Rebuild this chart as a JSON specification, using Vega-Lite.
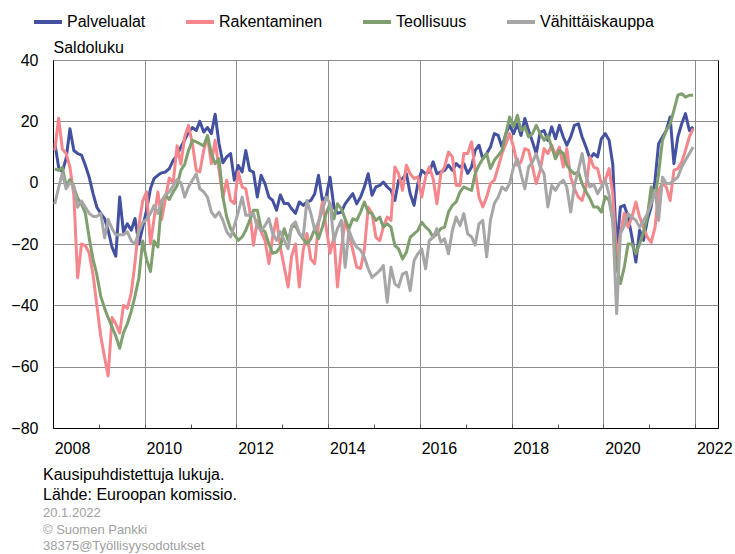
{
"$schema":"https://vega.github.io/schema/vega-lite/v6.json",
"width":665,"height":368,
"autosize":"none",
"padding":{"left":53,"top":60,"right":17,"bottom":126},
"config":{"font":"Liberation Sans","view":{"stroke":"black","strokeWidth":1}},
"title":{"text":["Kausipuhdistettuja lukuja.","Lähde: Euroopan komissio."],"subtitle":["20.1.2022","© Suomen Pankki","38375@Työllisyysodotukset"],"orient":"bottom","anchor":"start","frame":"group","dx":-10,"offset":11,"fontSize":16,"fontWeight":"normal","color":"black","lineHeight":20,"subtitleFontSize":13,"subtitleColor":"#a0a0a0","subtitleLineHeight":16.5,"subtitlePadding":4,"font":"Liberation Sans","subtitleFont":"Liberation Sans"},
"data":{"values":[
{"kk":"2008-01-15","Palvelualat":13,"Rakentaminen":10.5,"Teollisuus":4.5,"Vähittäiskauppa":-7},
{"kk":"2008-02-15","Palvelualat":5,"Rakentaminen":21,"Teollisuus":4,"Vähittäiskauppa":-1.5},
{"kk":"2008-03-15","Palvelualat":3.5,"Rakentaminen":11,"Teollisuus":5,"Vähittäiskauppa":3},
{"kk":"2008-04-15","Palvelualat":8,"Rakentaminen":9.5,"Teollisuus":-1,"Vähittäiskauppa":-2},
{"kk":"2008-05-15","Palvelualat":17.6,"Rakentaminen":5,"Teollisuus":1,"Vähittäiskauppa":0},
{"kk":"2008-06-15","Palvelualat":10.5,"Rakentaminen":-4,"Teollisuus":-1.5,"Vähittäiskauppa":-1},
{"kk":"2008-07-15","Palvelualat":9.5,"Rakentaminen":-31,"Teollisuus":-5,"Vähittäiskauppa":-8},
{"kk":"2008-08-15","Palvelualat":9,"Rakentaminen":-20,"Teollisuus":-7,"Vähittäiskauppa":-6},
{"kk":"2008-09-15","Palvelualat":5.6,"Rakentaminen":-20.5,"Teollisuus":-10,"Vähittäiskauppa":-8},
{"kk":"2008-10-15","Palvelualat":1.8,"Rakentaminen":-23,"Teollisuus":-18,"Vähittäiskauppa":-10},
{"kk":"2008-11-15","Palvelualat":-3.6,"Rakentaminen":-30,"Teollisuus":-25,"Vähittäiskauppa":-11},
{"kk":"2008-12-15","Palvelualat":-8,"Rakentaminen":-40,"Teollisuus":-30,"Vähittäiskauppa":-11},
{"kk":"2009-01-15","Palvelualat":-10,"Rakentaminen":-50,"Teollisuus":-37,"Vähittäiskauppa":-10},
{"kk":"2009-02-15","Palvelualat":-11.7,"Rakentaminen":-57,"Teollisuus":-41,"Vähittäiskauppa":-18},
{"kk":"2009-03-15","Palvelualat":-15.5,"Rakentaminen":-63,"Teollisuus":-44,"Vähittäiskauppa":-12},
{"kk":"2009-04-15","Palvelualat":-21,"Rakentaminen":-44,"Teollisuus":-47,"Vähittäiskauppa":-15},
{"kk":"2009-05-15","Palvelualat":-24,"Rakentaminen":-46,"Teollisuus":-50,"Vähittäiskauppa":-17},
{"kk":"2009-06-15","Palvelualat":-4.7,"Rakentaminen":-49,"Teollisuus":-54,"Vähittäiskauppa":-17},
{"kk":"2009-07-15","Palvelualat":-16,"Rakentaminen":-40,"Teollisuus":-49,"Vähittäiskauppa":-17},
{"kk":"2009-08-15","Palvelualat":-13.4,"Rakentaminen":-41,"Teollisuus":-46,"Vähittäiskauppa":-16},
{"kk":"2009-09-15","Palvelualat":-15.5,"Rakentaminen":-36,"Teollisuus":-42,"Vähittäiskauppa":-19},
{"kk":"2009-10-15","Palvelualat":-11.7,"Rakentaminen":-26,"Teollisuus":-37,"Vähittäiskauppa":-20},
{"kk":"2009-11-15","Palvelualat":-20,"Rakentaminen":-14,"Teollisuus":-31,"Vähittäiskauppa":-16},
{"kk":"2009-12-15","Palvelualat":-14.5,"Rakentaminen":-6,"Teollisuus":-19,"Vähittäiskauppa":-13},
{"kk":"2010-01-15","Palvelualat":-9,"Rakentaminen":-3,"Teollisuus":-25,"Vähittäiskauppa":-12},
{"kk":"2010-02-15","Palvelualat":-2,"Rakentaminen":-20,"Teollisuus":-29,"Vähittäiskauppa":-10},
{"kk":"2010-03-15","Palvelualat":1.3,"Rakentaminen":-12,"Teollisuus":-19,"Vähittäiskauppa":-7.5},
{"kk":"2010-04-15","Palvelualat":2.4,"Rakentaminen":-3,"Teollisuus":-21,"Vähittäiskauppa":-10},
{"kk":"2010-05-15","Palvelualat":3.2,"Rakentaminen":-12,"Teollisuus":-6,"Vähittäiskauppa":-6},
{"kk":"2010-06-15","Palvelualat":3.5,"Rakentaminen":-5,"Teollisuus":-4,"Vähittäiskauppa":-4},
{"kk":"2010-07-15","Palvelualat":4.6,"Rakentaminen":1.5,"Teollisuus":-5.5,"Vähittäiskauppa":-3},
{"kk":"2010-08-15","Palvelualat":7.3,"Rakentaminen":0,"Teollisuus":-3,"Vähittäiskauppa":-1},
{"kk":"2010-09-15","Palvelualat":9,"Rakentaminen":12,"Teollisuus":-1,"Vähittäiskauppa":1},
{"kk":"2010-10-15","Palvelualat":11.6,"Rakentaminen":6,"Teollisuus":4,"Vähittäiskauppa":0},
{"kk":"2010-11-15","Palvelualat":14,"Rakentaminen":15,"Teollisuus":6,"Vähittäiskauppa":-4.7},
{"kk":"2010-12-15","Palvelualat":16.5,"Rakentaminen":18.7,"Teollisuus":10.5,"Vähittäiskauppa":-1.4},
{"kk":"2011-01-15","Palvelualat":18,"Rakentaminen":12.7,"Teollisuus":13.8,"Vähittäiskauppa":0.8},
{"kk":"2011-02-15","Palvelualat":17,"Rakentaminen":4,"Teollisuus":13.3,"Vähittäiskauppa":2.9},
{"kk":"2011-03-15","Palvelualat":20,"Rakentaminen":3.5,"Teollisuus":12.7,"Vähittäiskauppa":-2},
{"kk":"2011-04-15","Palvelualat":16.5,"Rakentaminen":10.5,"Teollisuus":12,"Vähittäiskauppa":-3},
{"kk":"2011-05-15","Palvelualat":18,"Rakentaminen":15,"Teollisuus":15.4,"Vähittäiskauppa":-4.7},
{"kk":"2011-06-15","Palvelualat":16,"Rakentaminen":6.2,"Teollisuus":9.5,"Vähittäiskauppa":-9.6},
{"kk":"2011-07-15","Palvelualat":22.3,"Rakentaminen":13.8,"Teollisuus":6.2,"Vähittäiskauppa":-11.2},
{"kk":"2011-08-15","Palvelualat":12.7,"Rakentaminen":4,"Teollisuus":7.8,"Vähittäiskauppa":-9.6},
{"kk":"2011-09-15","Palvelualat":6.5,"Rakentaminen":-4.7,"Teollisuus":-4.7,"Vähittäiskauppa":-12.3},
{"kk":"2011-10-15","Palvelualat":8.4,"Rakentaminen":0.8,"Teollisuus":-11.2,"Vähittäiskauppa":-16},
{"kk":"2011-11-15","Palvelualat":9.5,"Rakentaminen":-5.8,"Teollisuus":-15,"Vähittäiskauppa":-17.7},
{"kk":"2011-12-15","Palvelualat":0.8,"Rakentaminen":-6.8,"Teollisuus":-17,"Vähittäiskauppa":-14},
{"kk":"2012-01-15","Palvelualat":5.6,"Rakentaminen":3.5,"Teollisuus":-18.8,"Vähittäiskauppa":-9.6},
{"kk":"2012-02-15","Palvelualat":3.5,"Rakentaminen":-1.4,"Teollisuus":-17.7,"Vähittäiskauppa":-4.7},
{"kk":"2012-03-15","Palvelualat":10.5,"Rakentaminen":-2,"Teollisuus":-15.5,"Vähittäiskauppa":-10.6},
{"kk":"2012-04-15","Palvelualat":4,"Rakentaminen":-9,"Teollisuus":-12.3,"Vähittäiskauppa":-10.6},
{"kk":"2012-05-15","Palvelualat":3.5,"Rakentaminen":-20.4,"Teollisuus":-9,"Vähittäiskauppa":-10},
{"kk":"2012-06-15","Palvelualat":-4.7,"Rakentaminen":-12.3,"Teollisuus":-9,"Vähittäiskauppa":-14.5},
{"kk":"2012-07-15","Palvelualat":2.4,"Rakentaminen":-16,"Teollisuus":-15,"Vähittäiskauppa":-15.5},
{"kk":"2012-08-15","Palvelualat":-0.3,"Rakentaminen":-18.8,"Teollisuus":-16,"Vähittäiskauppa":-14},
{"kk":"2012-09-15","Palvelualat":-4.7,"Rakentaminen":-26.4,"Teollisuus":-20,"Vähittäiskauppa":-11.7},
{"kk":"2012-10-15","Palvelualat":-5.8,"Rakentaminen":-17.7,"Teollisuus":-23,"Vähittäiskauppa":-16.6},
{"kk":"2012-11-15","Palvelualat":-9,"Rakentaminen":-11.7,"Teollisuus":-22.6,"Vähittäiskauppa":-18.8},
{"kk":"2012-12-15","Palvelualat":-4,"Rakentaminen":-21,"Teollisuus":-21,"Vähittäiskauppa":-16},
{"kk":"2013-01-15","Palvelualat":-6.8,"Rakentaminen":-27.5,"Teollisuus":-15,"Vähittäiskauppa":-18.8},
{"kk":"2013-02-15","Palvelualat":-6.8,"Rakentaminen":-34,"Teollisuus":-18.8,"Vähittäiskauppa":-21.5},
{"kk":"2013-03-15","Palvelualat":-8.5,"Rakentaminen":-24,"Teollisuus":-14.5,"Vähittäiskauppa":-14},
{"kk":"2013-04-15","Palvelualat":-10,"Rakentaminen":-20,"Teollisuus":-14,"Vähittäiskauppa":-12.8},
{"kk":"2013-05-15","Palvelualat":-6.3,"Rakentaminen":-34,"Teollisuus":-16.6,"Vähittäiskauppa":-16.6},
{"kk":"2013-06-15","Palvelualat":-7.4,"Rakentaminen":-22,"Teollisuus":-18.3,"Vähittäiskauppa":-17.7},
{"kk":"2013-07-15","Palvelualat":-6.3,"Rakentaminen":-16.6,"Teollisuus":-20,"Vähittäiskauppa":-5.8},
{"kk":"2013-08-15","Palvelualat":-5.8,"Rakentaminen":-25,"Teollisuus":-18.3,"Vähittäiskauppa":-10},
{"kk":"2013-09-15","Palvelualat":-3.6,"Rakentaminen":-26.4,"Teollisuus":-15,"Vähittäiskauppa":-15.5},
{"kk":"2013-10-15","Palvelualat":2.4,"Rakentaminen":-13.4,"Teollisuus":-18.3,"Vähittäiskauppa":-12.8},
{"kk":"2013-11-15","Palvelualat":-5.8,"Rakentaminen":-6.3,"Teollisuus":-14.5,"Vähittäiskauppa":-9},
{"kk":"2013-12-15","Palvelualat":-4.7,"Rakentaminen":-14.5,"Teollisuus":-10,"Vähittäiskauppa":-4.7},
{"kk":"2014-01-15","Palvelualat":1.8,"Rakentaminen":-23,"Teollisuus":-6.9,"Vähittäiskauppa":-6.8},
{"kk":"2014-02-15","Palvelualat":-8,"Rakentaminen":-17.8,"Teollisuus":-11.8,"Vähittäiskauppa":-18.9},
{"kk":"2014-03-15","Palvelualat":-10,"Rakentaminen":-34,"Teollisuus":-6.9,"Vähittäiskauppa":-15},
{"kk":"2014-04-15","Palvelualat":-9.6,"Rakentaminen":-21.6,"Teollisuus":-8.5,"Vähittäiskauppa":-12.3},
{"kk":"2014-05-15","Palvelualat":-6.9,"Rakentaminen":-12.3,"Teollisuus":-11.8,"Vähittäiskauppa":-27.6},
{"kk":"2014-06-15","Palvelualat":-5.2,"Rakentaminen":-16.6,"Teollisuus":-15,"Vähittäiskauppa":-15.6},
{"kk":"2014-07-15","Palvelualat":-3.6,"Rakentaminen":-22,"Teollisuus":-11.8,"Vähittäiskauppa":-18.9},
{"kk":"2014-08-15","Palvelualat":-6.9,"Rakentaminen":-27.5,"Teollisuus":-12.3,"Vähittäiskauppa":-21},
{"kk":"2014-09-15","Palvelualat":-4.7,"Rakentaminen":-28,"Teollisuus":-9.6,"Vähittäiskauppa":-22},
{"kk":"2014-10-15","Palvelualat":-1.4,"Rakentaminen":-22,"Teollisuus":-6.3,"Vähittäiskauppa":-24.3},
{"kk":"2014-11-15","Palvelualat":2.9,"Rakentaminen":-8,"Teollisuus":-9.6,"Vähittäiskauppa":-28.1},
{"kk":"2014-12-15","Palvelualat":-4.1,"Rakentaminen":-10,"Teollisuus":-10.1,"Vähittäiskauppa":-30.9},
{"kk":"2015-01-15","Palvelualat":-1.4,"Rakentaminen":-17.8,"Teollisuus":-12.3,"Vähittäiskauppa":-29.8},
{"kk":"2015-02-15","Palvelualat":-0.9,"Rakentaminen":-18.9,"Teollisuus":-11.2,"Vähittäiskauppa":-28.7},
{"kk":"2015-03-15","Palvelualat":0.2,"Rakentaminen":-14.5,"Teollisuus":-14.5,"Vähittäiskauppa":-27},
{"kk":"2015-04-15","Palvelualat":-1.4,"Rakentaminen":-11.2,"Teollisuus":-13.4,"Vähittäiskauppa":-39},
{"kk":"2015-05-15","Palvelualat":-2.5,"Rakentaminen":-12.3,"Teollisuus":-14.5,"Vähittäiskauppa":-27.6},
{"kk":"2015-06-15","Palvelualat":-5.8,"Rakentaminen":5.1,"Teollisuus":-20.5,"Vähittäiskauppa":-33},
{"kk":"2015-07-15","Palvelualat":0.8,"Rakentaminen":2.9,"Teollisuus":-21.6,"Vähittäiskauppa":-34},
{"kk":"2015-08-15","Palvelualat":1.3,"Rakentaminen":-2.5,"Teollisuus":-24.9,"Vähittäiskauppa":-29.8},
{"kk":"2015-09-15","Palvelualat":2.9,"Rakentaminen":5.7,"Teollisuus":-22.7,"Vähittäiskauppa":-29.2},
{"kk":"2015-10-15","Palvelualat":-3.6,"Rakentaminen":2.9,"Teollisuus":-17.8,"Vähittäiskauppa":-35.2},
{"kk":"2015-11-15","Palvelualat":-7.4,"Rakentaminen":1.3,"Teollisuus":-16.7,"Vähittäiskauppa":-25.4},
{"kk":"2015-12-15","Palvelualat":-0.3,"Rakentaminen":1.9,"Teollisuus":-15.6,"Vähittäiskauppa":-23.2},
{"kk":"2016-01-15","Palvelualat":4,"Rakentaminen":-4.7,"Teollisuus":-12.9,"Vähittäiskauppa":-21.6},
{"kk":"2016-02-15","Palvelualat":2.9,"Rakentaminen":1.9,"Teollisuus":-14.5,"Vähittäiskauppa":-28.1},
{"kk":"2016-03-15","Palvelualat":3.5,"Rakentaminen":5.1,"Teollisuus":-15.6,"Vähittäiskauppa":-18.9},
{"kk":"2016-04-15","Palvelualat":6.8,"Rakentaminen":1.3,"Teollisuus":-17.8,"Vähittäiskauppa":-17.8},
{"kk":"2016-05-15","Palvelualat":2.9,"Rakentaminen":-6.9,"Teollisuus":-16.7,"Vähittäiskauppa":-15},
{"kk":"2016-06-15","Palvelualat":3.5,"Rakentaminen":2.9,"Teollisuus":-15,"Vähittäiskauppa":-19.4},
{"kk":"2016-07-15","Palvelualat":4,"Rakentaminen":5.1,"Teollisuus":-14.5,"Vähittäiskauppa":-18.3},
{"kk":"2016-08-15","Palvelualat":5.7,"Rakentaminen":10,"Teollisuus":-9.6,"Vähittäiskauppa":-23.2},
{"kk":"2016-09-15","Palvelualat":4,"Rakentaminen":8.4,"Teollisuus":-7.4,"Vähittäiskauppa":-15.6},
{"kk":"2016-10-15","Palvelualat":6.2,"Rakentaminen":-0.9,"Teollisuus":-6.3,"Vähittäiskauppa":-11.2},
{"kk":"2016-11-15","Palvelualat":5.1,"Rakentaminen":-0.9,"Teollisuus":-3,"Vähittäiskauppa":-14},
{"kk":"2016-12-15","Palvelualat":6.2,"Rakentaminen":9.5,"Teollisuus":-1.4,"Vähittäiskauppa":-10.1},
{"kk":"2017-01-15","Palvelualat":3,"Rakentaminen":9.5,"Teollisuus":-2,"Vähittäiskauppa":-16.7},
{"kk":"2017-02-15","Palvelualat":5.1,"Rakentaminen":13.3,"Teollisuus":-2.5,"Vähittäiskauppa":-17.7},
{"kk":"2017-03-15","Palvelualat":10.5,"Rakentaminen":4,"Teollisuus":2.9,"Vähittäiskauppa":-20.4},
{"kk":"2017-04-15","Palvelualat":12.2,"Rakentaminen":-4.7,"Teollisuus":5.7,"Vähittäiskauppa":-13.4},
{"kk":"2017-05-15","Palvelualat":7.8,"Rakentaminen":-7.9,"Teollisuus":7.8,"Vähittäiskauppa":-12.3},
{"kk":"2017-06-15","Palvelualat":9.5,"Rakentaminen":-4.7,"Teollisuus":9.5,"Vähittäiskauppa":-24.2},
{"kk":"2017-07-15","Palvelualat":11.6,"Rakentaminen":-0.3,"Teollisuus":4.6,"Vähittäiskauppa":-12.3},
{"kk":"2017-08-15","Palvelualat":16,"Rakentaminen":0.8,"Teollisuus":7.3,"Vähittäiskauppa":-6.8},
{"kk":"2017-09-15","Palvelualat":15.4,"Rakentaminen":5.1,"Teollisuus":8.9,"Vähittäiskauppa":-4.7},
{"kk":"2017-10-15","Palvelualat":11.6,"Rakentaminen":9.5,"Teollisuus":10.5,"Vähittäiskauppa":-1.4},
{"kk":"2017-11-15","Palvelualat":16,"Rakentaminen":12.7,"Teollisuus":16,"Vähittäiskauppa":-2.5},
{"kk":"2017-12-15","Palvelualat":18.7,"Rakentaminen":16,"Teollisuus":21.4,"Vähittäiskauppa":-0.3},
{"kk":"2018-01-15","Palvelualat":16,"Rakentaminen":11.6,"Teollisuus":18.2,"Vähittäiskauppa":5.1},
{"kk":"2018-02-15","Palvelualat":19.2,"Rakentaminen":5.7,"Teollisuus":22,"Vähittäiskauppa":7.8},
{"kk":"2018-03-15","Palvelualat":15.4,"Rakentaminen":6.7,"Teollisuus":17,"Vähittäiskauppa":2.9},
{"kk":"2018-04-15","Palvelualat":20.9,"Rakentaminen":11.1,"Teollisuus":18.2,"Vähittäiskauppa":-2},
{"kk":"2018-05-15","Palvelualat":17,"Rakentaminen":10.5,"Teollisuus":14.9,"Vähittäiskauppa":5.1},
{"kk":"2018-06-15","Palvelualat":13.3,"Rakentaminen":5.1,"Teollisuus":16,"Vähittäiskauppa":6.7},
{"kk":"2018-07-15","Palvelualat":9.5,"Rakentaminen":-0.3,"Teollisuus":18.7,"Vähittäiskauppa":9.5},
{"kk":"2018-08-15","Palvelualat":16.5,"Rakentaminen":4,"Teollisuus":16,"Vähittäiskauppa":5.1},
{"kk":"2018-09-15","Palvelualat":17,"Rakentaminen":11.1,"Teollisuus":13.8,"Vähittäiskauppa":2.9},
{"kk":"2018-10-15","Palvelualat":13.8,"Rakentaminen":9.5,"Teollisuus":15.4,"Vähittäiskauppa":-7.9},
{"kk":"2018-11-15","Palvelualat":18.2,"Rakentaminen":12.2,"Teollisuus":11.6,"Vähittäiskauppa":-0.9},
{"kk":"2018-12-15","Palvelualat":14.3,"Rakentaminen":8.9,"Teollisuus":7.8,"Vähittäiskauppa":-2.5},
{"kk":"2019-01-15","Palvelualat":18.7,"Rakentaminen":11.6,"Teollisuus":10.5,"Vähittäiskauppa":-0.3},
{"kk":"2019-02-15","Palvelualat":14.9,"Rakentaminen":5.1,"Teollisuus":9.5,"Vähittäiskauppa":0.8},
{"kk":"2019-03-15","Palvelualat":12.2,"Rakentaminen":11.1,"Teollisuus":5.7,"Vähittäiskauppa":-1.4},
{"kk":"2019-04-15","Palvelualat":14.9,"Rakentaminen":1.8,"Teollisuus":4,"Vähittäiskauppa":-9.6},
{"kk":"2019-05-15","Palvelualat":18.7,"Rakentaminen":-2,"Teollisuus":2.9,"Vähittäiskauppa":-0.9},
{"kk":"2019-06-15","Palvelualat":19.2,"Rakentaminen":-4.7,"Teollisuus":3.5,"Vähittäiskauppa":4},
{"kk":"2019-07-15","Palvelualat":14.9,"Rakentaminen":-5.8,"Teollisuus":-0.3,"Vähittäiskauppa":9.5},
{"kk":"2019-08-15","Palvelualat":11.6,"Rakentaminen":-1.4,"Teollisuus":-3,"Vähittäiskauppa":2},
{"kk":"2019-09-15","Palvelualat":7.8,"Rakentaminen":8.4,"Teollisuus":-5.2,"Vähittäiskauppa":-1.4},
{"kk":"2019-10-15","Palvelualat":9.5,"Rakentaminen":5.1,"Teollisuus":-7.9,"Vähittäiskauppa":-0.5},
{"kk":"2019-11-15","Palvelualat":8.4,"Rakentaminen":4.6,"Teollisuus":-7.9,"Vähittäiskauppa":-3.6},
{"kk":"2019-12-15","Palvelualat":14.3,"Rakentaminen":-0.3,"Teollisuus":-9.6,"Vähittäiskauppa":-1.4},
{"kk":"2020-01-15","Palvelualat":16,"Rakentaminen":0.8,"Teollisuus":-4.5,"Vähittäiskauppa":0.8},
{"kk":"2020-02-15","Palvelualat":13.8,"Rakentaminen":4.6,"Teollisuus":-5.8,"Vähittäiskauppa":-4},
{"kk":"2020-03-15","Palvelualat":6,"Rakentaminen":-3.6,"Teollisuus":-12.3,"Vähittäiskauppa":-12.3},
{"kk":"2020-04-15","Palvelualat":-22,"Rakentaminen":-25.3,"Teollisuus":-27.5,"Vähittäiskauppa":-42.7},
{"kk":"2020-05-15","Palvelualat":-7.9,"Rakentaminen":-16.6,"Teollisuus":-32.9,"Vähittäiskauppa":-16.6},
{"kk":"2020-06-15","Palvelualat":-7.4,"Rakentaminen":-10,"Teollisuus":-27.5,"Vähittäiskauppa":-14},
{"kk":"2020-07-15","Palvelualat":-11.2,"Rakentaminen":-14.5,"Teollisuus":-20,"Vähittäiskauppa":-10.1},
{"kk":"2020-08-15","Palvelualat":-17.8,"Rakentaminen":-11.2,"Teollisuus":-20,"Vähittäiskauppa":-11.2},
{"kk":"2020-09-15","Palvelualat":-25.9,"Rakentaminen":-6.3,"Teollisuus":-23.2,"Vähittäiskauppa":-12.3},
{"kk":"2020-10-15","Palvelualat":-15.5,"Rakentaminen":-11.2,"Teollisuus":-20,"Vähittäiskauppa":-14.5},
{"kk":"2020-11-15","Palvelualat":-18.8,"Rakentaminen":-14.5,"Teollisuus":-16,"Vähittäiskauppa":-12.3},
{"kk":"2020-12-15","Palvelualat":-12.3,"Rakentaminen":-17.8,"Teollisuus":-11.2,"Vähittäiskauppa":-10.1},
{"kk":"2021-01-15","Palvelualat":-7.9,"Rakentaminen":-19.5,"Teollisuus":-1.4,"Vähittäiskauppa":-6.8},
{"kk":"2021-02-15","Palvelualat":0.8,"Rakentaminen":-14.5,"Teollisuus":-4.7,"Vähittäiskauppa":-2.5},
{"kk":"2021-03-15","Palvelualat":12.7,"Rakentaminen":-2.5,"Teollisuus":3,"Vähittäiskauppa":-12.3},
{"kk":"2021-04-15","Palvelualat":14.9,"Rakentaminen":-0.3,"Teollisuus":13.8,"Vähittäiskauppa":1.8},
{"kk":"2021-05-15","Palvelualat":17,"Rakentaminen":-1.4,"Teollisuus":17,"Vähittäiskauppa":-0.3},
{"kk":"2021-06-15","Palvelualat":21.4,"Rakentaminen":-5.8,"Teollisuus":19.2,"Vähittäiskauppa":-0.3},
{"kk":"2021-07-15","Palvelualat":6.2,"Rakentaminen":4,"Teollisuus":23.6,"Vähittäiskauppa":0.8},
{"kk":"2021-08-15","Palvelualat":14.9,"Rakentaminen":4.6,"Teollisuus":28.5,"Vähittäiskauppa":1.8},
{"kk":"2021-09-15","Palvelualat":19.2,"Rakentaminen":6.7,"Teollisuus":29,"Vähittäiskauppa":5.1},
{"kk":"2021-10-15","Palvelualat":22.5,"Rakentaminen":10.5,"Teollisuus":27.9,"Vähittäiskauppa":7.3},
{"kk":"2021-11-15","Palvelualat":17,"Rakentaminen":14.9,"Teollisuus":28.5,"Vähittäiskauppa":9.5},
{"kk":"2021-12-15","Palvelualat":18.2,"Rakentaminen":17.6,"Teollisuus":28.5,"Vähittäiskauppa":11.6}
]},
"transform":[{"fold":["Palvelualat","Rakentaminen","Teollisuus","Vähittäiskauppa"],"as":["sarja","arvo"]}],
"mark":{"type":"line","strokeWidth":3,"strokeJoin":"round","strokeCap":"butt"},
"encoding":{
"x":{"field":"kk","type":"temporal",
"scale":{"domain":[{"year":2008,"month":1,"date":1},{"year":2022,"month":7,"date":1}]},
"axis":{"title":null,"values":[{"year":2008,"month":1,"date":1},{"year":2009,"month":1,"date":1},{"year":2010,"month":1,"date":1},{"year":2011,"month":1,"date":1},{"year":2012,"month":1,"date":1},{"year":2013,"month":1,"date":1},{"year":2014,"month":1,"date":1},{"year":2015,"month":1,"date":1},{"year":2016,"month":1,"date":1},{"year":2017,"month":1,"date":1},{"year":2018,"month":1,"date":1},{"year":2019,"month":1,"date":1},{"year":2020,"month":1,"date":1},{"year":2021,"month":1,"date":1},{"year":2022,"month":1,"date":1}],
"labelExpr":"year(datum.value) % 2 == 0 ? timeFormat(datum.value, '%Y') : ''",
"grid":true,"gridColor":"#8c8c8c","gridWidth":1,
"gridOpacity":{"condition":{"test":"year(datum.value) % 2 == 0","value":1},"value":0},
"ticks":true,"tickSize":-4,"tickColor":"#555555","tickWidth":1,
"domain":true,"domainColor":"black",
"labelFontSize":16,"labelColor":"black","labelOffset":19,"labelPadding":16,"labelFlush":false,"labelOverlap":false,"labelFont":"Liberation Sans"}},
"y":{"field":"arvo","type":"quantitative",
"scale":{"domain":[-80,40],"nice":false,"zero":false},
"axis":{"title":"Saldoluku","titleAngle":0,"titleAlign":"left","titleBaseline":"alphabetic","titleX":0,"titleY":-8,"titleFontSize":16,"titleFontWeight":"normal","titleColor":"black","titleFont":"Liberation Sans",
"values":[-80,-60,-40,-20,0,20,40],"grid":true,"gridColor":"#8c8c8c","gridWidth":1,"ticks":false,"domain":true,"domainColor":"black",
"labelFontSize":16,"labelColor":"black","labelPadding":15,"labelFont":"Liberation Sans"}},
"color":{"field":"sarja","type":"nominal",
"scale":{"domain":["Palvelualat","Rakentaminen","Teollisuus","Vähittäiskauppa"],"range":["#4351a0","#f4868c","#7f9f6e","#a6a6a6"]},
"legend":{"title":null,"orient":"none","legendX":-21,"legendY":-54,"direction":"horizontal","symbolType":"stroke","symbolStrokeWidth":4,"symbolSize":784,"labelFontSize":16,"labelColor":"black","labelOffset":3,"columnPadding":32,"labelFont":"Liberation Sans","padding":0}}
}
}
